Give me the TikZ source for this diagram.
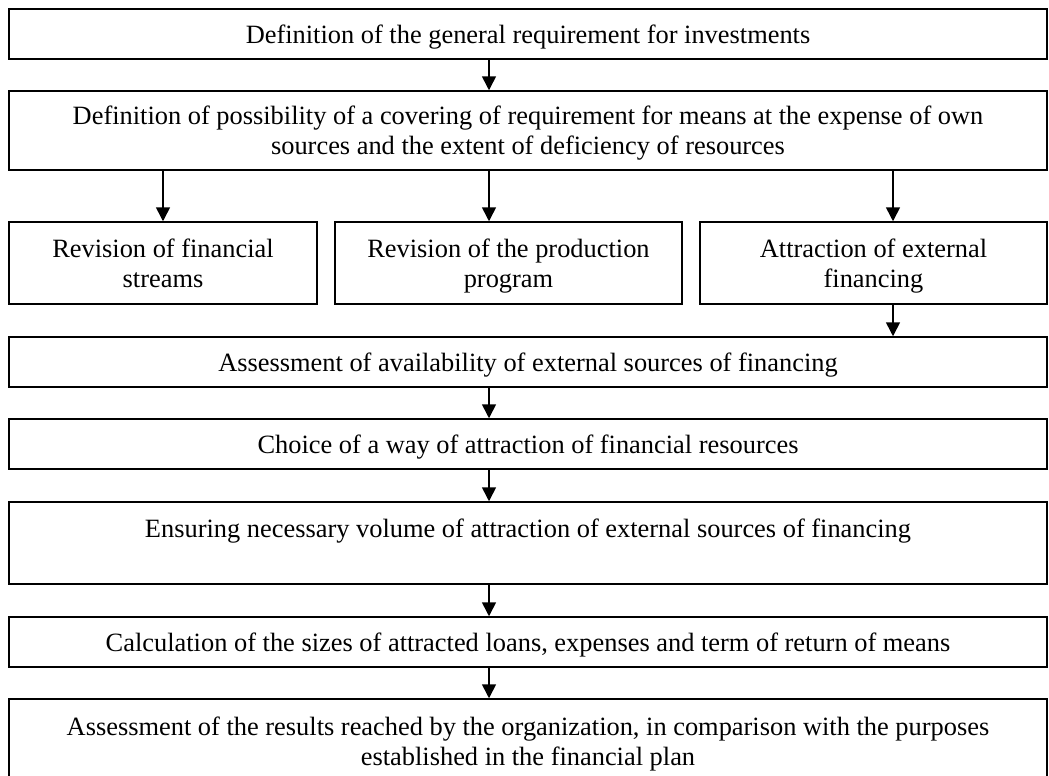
\documentclass[tikz,border=0pt]{standalone}
\usepackage{fontspec}
\setmainfont{Liberation Serif}
\usetikzlibrary{arrows.meta}
\begin{document}
\begin{tikzpicture}[x=0.5pt,y=-0.5pt,
  box/.style={draw, line width=0.75pt, rectangle, inner sep=0pt, align=center,
    text depth=0pt, font=\fontsize{13.2}{15}\selectfont},
  arr/.style={line width=0.8pt, -{Triangle[length=7pt,width=7pt]}}]
\useasboundingbox (0,0) rectangle (1049,776);
\clip (0,0) rectangle (1049,776);
\node[box, minimum width=519pt, minimum height=25pt] (b1) at (528,34)
  {Definition of the general requirement for investments};
\node[box, minimum width=519pt, minimum height=39.5pt] (b2) at (528,130.5)
  {Definition of possibility of a covering of requirement for means at the expense of own\\ sources and the extent of deficiency of resources};
\node[box, minimum width=154pt, minimum height=41pt] (b3a) at (163,263)
  {Revision of financial\\ streams};
\node[box, minimum width=173.5pt, minimum height=41pt] (b3b) at (508.5,263)
  {Revision of the production\\ program};
\node[box, minimum width=173.5pt, minimum height=41pt] (b3c) at (873.5,263)
  {Attraction of external\\ financing};
\node[box, minimum width=519pt, minimum height=25pt] (b4) at (528,362)
  {Assessment of availability of external sources of financing};
\node[box, minimum width=519pt, minimum height=25pt] (b5) at (528,444)
  {Choice of a way of attraction of financial resources};
\node[box, minimum width=519pt, minimum height=41pt] (b6) at (528,543)
  {Ensuring necessary volume of attraction of external sources of financing\\ \strut};
\node[box, minimum width=519pt, minimum height=25pt] (b7) at (528,642)
  {Calculation of the sizes of attracted loans, expenses and term of return of means};
\node[box, minimum width=519pt, minimum height=42pt] (b8) at (528,741)
  {Assessment of the results reached by the organization, in comparison with the purposes\\ established in the financial plan};
\coordinate (xl) at (163,0);
\coordinate (xm) at (489,0);
\coordinate (xr) at (893,0);
\draw[arr] (b1.south -| xm) -- (b2.north -| xm);
\draw[arr] (b2.south -| xl) -- (b3a.north -| xl);
\draw[arr] (b2.south -| xm) -- (b3b.north -| xm);
\draw[arr] (b2.south -| xr) -- (b3c.north -| xr);
\draw[arr] (b3c.south -| xr) -- (b4.north -| xr);
\draw[arr] (b4.south -| xm) -- (b5.north -| xm);
\draw[arr] (b5.south -| xm) -- (b6.north -| xm);
\draw[arr] (b6.south -| xm) -- (b7.north -| xm);
\draw[arr] (b7.south -| xm) -- (b8.north -| xm);
\end{tikzpicture}
\end{document}
